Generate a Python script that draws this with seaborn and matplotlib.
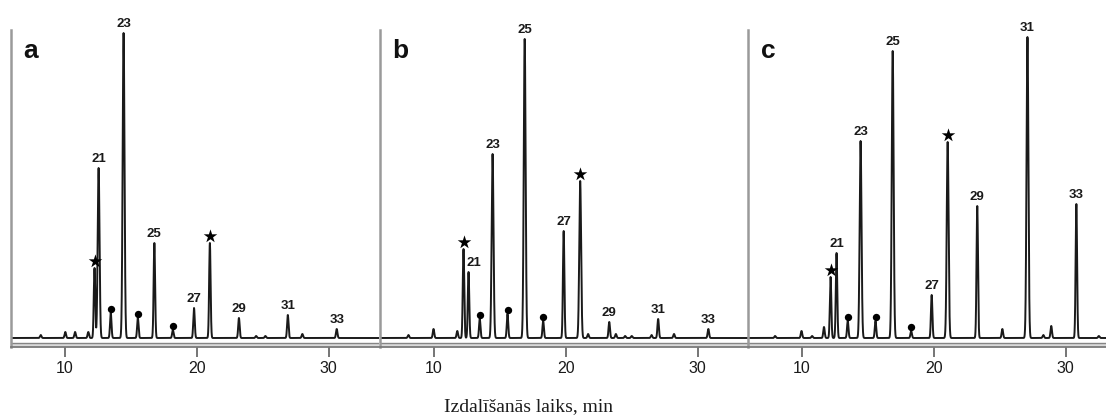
import numpy as np
import matplotlib
matplotlib.use("Agg")
import matplotlib.pyplot as plt
import seaborn as sns

sns.set_theme(style="white")
plt.rcParams["font.family"] = ["Liberation Sans", "DejaVu Sans"]

# Retention times (min), peak heights (detector units) and peak tags per trace.
# Tags: chain-length number, "*" = star-marked peak, "o" = dot-marked peak, "" = unmarked.
a_times = [8.2, 10.06, 10.8, 11.8, 12.27, 12.58, 13.5, 14.47, 15.55, 16.8, 18.2,
           19.8, 21.0, 23.2, 24.5, 25.2, 26.9, 28.0, 30.6]
a_heights = [3, 6, 6, 6, 70, 170, 25, 305, 20, 95, 8, 30, 95, 20, 2, 2, 23, 4, 9]
a_tags = ["", "", "", "", "*", "21", "o", "23", "o", "25", "o",
          "27", "*", "29", "", "", "31", "", "33"]

b_times = [8.1, 10.0, 11.8, 12.27, 12.65, 13.5, 14.47, 15.6, 16.9, 18.3, 19.85,
           21.1, 21.7, 23.3, 23.8, 24.5, 25.0, 26.5, 27.0, 28.2, 30.8]
b_heights = [3, 9, 7, 89, 66, 19, 184, 24, 299, 17, 107,
             157, 4, 16, 4, 2, 2, 3, 19, 4, 9]
b_tags = ["", "", "", "*", "21", "o", "23", "o", "25", "o", "27",
          "*", "", "29", "", "", "", "", "31", "", "33"]

c_times = [8.0, 10.0, 10.8, 11.7, 12.2, 12.65, 13.5, 14.47, 15.6, 16.9, 18.3,
           19.85, 21.06, 23.3, 25.2, 27.1, 28.3, 28.9, 30.8, 32.5]
c_heights = [2, 7, 2, 11, 61, 85, 17, 197, 17, 287, 7,
             43, 196, 132, 9, 301, 3, 12, 134, 2]
c_tags = ["", "", "", "", "*", "21", "o", "23", "o", "25", "o",
          "27", "*", "29", "", "31", "", "", "33", ""]

panel_names = ["a", "b", "c"]
x_ticks = [10, 20, 30]
x_label = "Izdalīšanās laiks, min"

traces = [(a_times, a_heights, a_tags),
          (b_times, b_heights, b_tags),
          (c_times, c_heights, c_tags)]

W, H = 1106, 417
fig = plt.figure(figsize=(W / 100, H / 100), dpi=100)

x_lo, x_hi = 5.95, 33.8
y_lo, y_hi = -9, 308
panel_left_px = [11, 380, 748]
ax_w_px, ax_h_px, ax_bottom_px = 368, 317, 70

label_nudge = {("b", "21"): 0.38}

grid = np.linspace(x_lo, x_hi, 8000)
for name, left_px, (times, heights, tags) in zip(panel_names, panel_left_px, traces):
    ax = fig.add_axes([left_px / W, ax_bottom_px / H, ax_w_px / W, ax_h_px / H])
    ax.set_facecolor("none")

    t = np.asarray(times, dtype=float)
    h = np.asarray(heights, dtype=float)
    widths = np.where(h > 150, 0.07, 0.055)
    signal = (h[:, None] * np.exp(-0.5 * ((grid[None, :] - t[:, None]) / widths[:, None]) ** 2)).sum(axis=0)
    sns.lineplot(x=grid, y=signal, ax=ax, color="#1a1a1a", linewidth=1.4,
                 estimator=None, sort=False)

    stars_x, stars_y, dots_x, dots_y = [], [], [], []
    for tm, ht, tag in zip(times, heights, tags):
        if tag == "*":
            stars_x.append(tm)
            stars_y.append(ht + 7)
        elif tag == "o":
            dots_x.append(tm)
            dots_y.append(ht + 4)
        elif tag:
            dx = label_nudge.get((name, tag), 0.0)
            ax.text(tm + dx, ht + 3, tag, ha="center", va="bottom", fontsize=9.5,
                    fontweight="bold", color="#1a1a1a", clip_on=False)
    sns.scatterplot(x=stars_x, y=stars_y, ax=ax, marker="*", s=105, color="black",
                    linewidth=0, clip_on=False, zorder=5)
    sns.scatterplot(x=dots_x, y=dots_y, ax=ax, marker="o", s=28, color="black",
                    linewidth=0, clip_on=False, zorder=5)

    # double-ruled time axis
    ax.axhspan(y_lo, -5, color="#dadada", lw=0, zorder=0)
    ax.axhline(-5, color="#858585", lw=1.0, zorder=1)

    ax.set_xlim(x_lo, x_hi)
    ax.set_ylim(y_lo, y_hi)
    ax.set_xticks(x_ticks)
    ax.set_xticklabels([str(v) for v in x_ticks])
    ax.set_yticks([])
    ax.set_xlabel("")
    ax.set_ylabel("")
    for side in ("top", "right"):
        ax.spines[side].set_visible(False)
    ax.spines["left"].set_color("#9a9a9a")
    ax.spines["left"].set_linewidth(1.8)
    ax.spines["bottom"].set_color("#7a7a7a")
    ax.spines["bottom"].set_linewidth(1.3)
    ax.tick_params(axis="x", direction="out", length=7, width=1.3, color="#6a6a6a",
                   labelsize=11.5, labelcolor="#1a1a1a", pad=3, bottom=True)

    ax.text(7.45, 287, name, ha="center", va="center", fontsize=19,
            fontweight="bold", color="#111111")

fig.text(528 / W, 1 - 407 / H, x_label, ha="center", va="center",
         fontsize=14, family=["Liberation Serif", "DejaVu Serif"], color="#1c1c1c")

fig.savefig("out.png", dpi=100, facecolor="white")
